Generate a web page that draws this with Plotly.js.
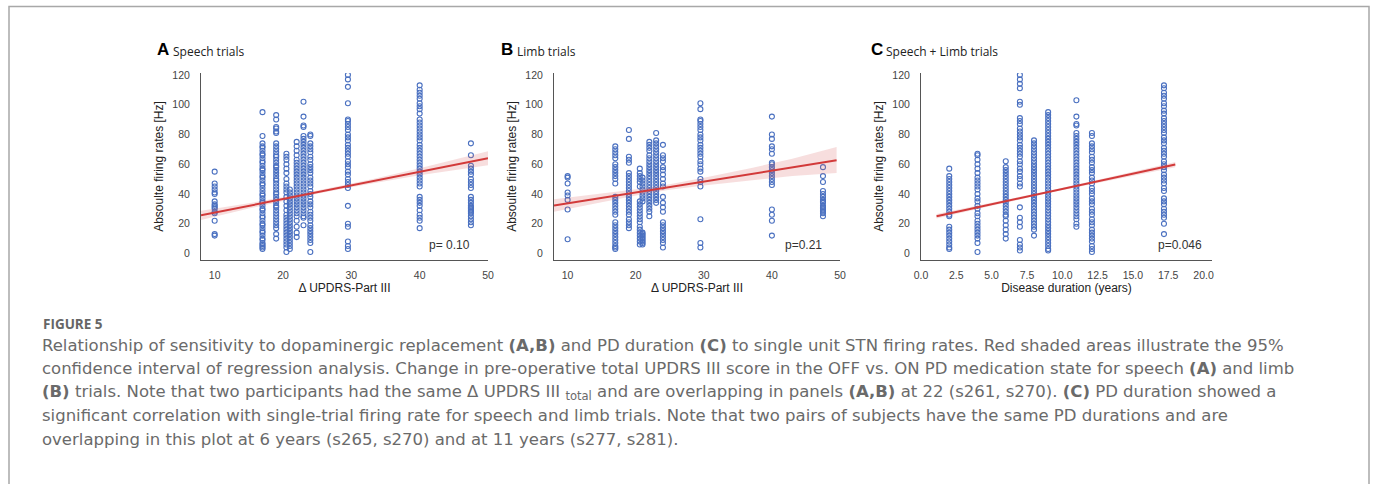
<!DOCTYPE html>
<html>
<head>
<meta charset="utf-8">
<script src="https://cdn.plot.ly/plotly-3.0.1.min.js"></script>
<style>
  html, body { margin: 0; padding: 0; background: #fff; }
  #chart { width: 1375px; height: 484px; }
</style>
</head>
<body>
<div id="chart"></div>
<script>
// ---------------- DATA ----------------
// Panel A: Speech trials, columns at Δ UPDRS-Part III values
const speechCols = [10, 17, 19, 20.5, 21, 22, 23, 24, 29.5, 40, 47.5];
const speechRates = [
  [55, 47, 45, 43, 41, 40, 35, 33, 32, 31, 30, 28, 27, 22, 13, 12],
  [95, 79, 74, 72, 71, 69, 67, 66, 64, 62, 61, 59, 57, 56, 54, 52, 51, 49, 47, 46, 44, 42, 40, 39, 37, 35, 34, 32, 30, 29, 27, 25, 24, 22, 20, 19, 17, 15, 14, 12, 10, 9, 7, 6, 5, 4, 3],
  [93, 90, 85, 84, 82, 81, 74, 72, 70, 68, 66, 65, 63, 61, 59, 58, 56, 54, 52, 50, 49, 47, 45, 43, 41, 40, 38, 36, 34, 32, 31, 29, 27, 25, 23, 21, 19, 17, 13, 10],
  [67, 65, 63, 60, 57, 54, 50, 47, 45, 43, 41, 38, 35, 32, 29, 26, 24, 22, 20, 18, 16, 14, 12, 10, 8, 6, 4, 1],
  [43, 41, 39, 37, 35, 33, 31, 29, 27, 25, 23, 21, 19, 17, 15, 13, 11, 9, 7, 5, 3],
  [75, 72, 69, 66, 63, 61, 59, 57, 55, 53, 51, 49, 47, 45, 43, 41, 39, 37, 35, 33, 31, 29, 27, 25, 22, 18, 14, 11],
  [102, 92, 86, 85, 79, 77, 75, 73, 71, 69, 67, 65, 63, 61, 59, 57, 55, 53, 51, 49, 47, 45, 43, 41, 39, 37, 35, 33, 31, 29, 27, 25, 24, 19],
  [80, 79, 74, 72, 70, 68, 65, 63, 60, 58, 56, 54, 51, 49, 47, 45, 42, 40, 38, 35, 33, 31, 28, 26, 24, 22, 19, 17, 15, 13, 11, 9, 7, 1],
  [120, 117, 112, 101, 90, 89, 87, 85, 83, 80, 78, 76, 73, 71, 69, 67, 65, 62, 60, 58, 55, 53, 50, 48, 46, 44, 32, 20, 18, 8, 5, 3],
  [113, 110, 108, 106, 104, 101, 99, 97, 94, 90, 88, 86, 84, 82, 80, 78, 76, 73, 71, 69, 67, 65, 63, 61, 59, 57, 55, 53, 51, 49, 47, 45, 38, 36, 34, 32, 29, 26, 24, 22, 17],
  [74, 66, 59, 57, 55, 53, 50, 48, 46, 44, 38, 36, 34, 32, 31, 30, 29, 28, 27, 25, 23, 21, 19]
];
const speechFitX = [8, 15, 22, 27, 33, 40, 50];
const speechFitY = [25.6, 32.0, 38.4, 43.0, 48.4, 54.8, 64.0];
const speechLow  = [22.5, 30.2, 37.3, 42.0, 47.0, 52.5, 59.3];
const speechHigh = [28.7, 33.8, 39.5, 44.0, 49.9, 57.2, 68.7];

// Panel B: Limb trials
const limbCols = [10, 17, 19, 20.6, 21, 22, 23, 24, 29.5, 40, 47.5];
const limbRates = [
  [52, 51, 47, 41, 39, 36, 29.5, 9.5],
  [72, 70, 68, 66, 64, 60, 58, 56, 54, 52, 50, 47, 38, 36, 34, 32, 30, 28, 26, 21, 19, 17, 15, 13, 11, 9, 7, 5, 4, 3],
  [83, 77, 65, 63, 61, 54, 52, 50, 48, 46, 44, 42, 40, 38, 36, 34, 32, 30, 28, 26, 23, 21, 19, 17],
  [57, 54, 52, 50, 48, 45, 35, 33, 31, 29, 27, 25, 23, 21, 18, 16, 14, 12, 10, 8, 6],
  [51, 49, 47, 45, 43, 41, 39, 37, 35, 14, 13, 12, 11, 10, 9, 8, 7, 6],
  [75, 73, 71, 69, 66, 64, 62, 60, 58, 56, 54, 52, 50, 48, 46, 44, 42, 40, 38, 36, 34, 32, 30, 28, 25],
  [81, 76, 74, 72, 70, 68, 66, 64, 62, 60, 58, 56, 54, 52, 50, 48, 46, 44, 42, 40, 38, 36, 34],
  [73, 66, 64, 62, 58, 56, 53, 50, 47, 45, 38, 34, 31, 28, 21, 19, 17, 15, 13, 11, 9, 7, 4],
  [101, 97, 90, 89, 87, 85, 83, 80, 78, 76, 73, 71, 69, 67, 65, 62, 60, 57, 55, 50, 48, 45, 23, 7, 4],
  [92, 80, 77, 72, 70, 67, 61, 60, 58, 56, 54, 52, 50, 48, 46, 29.5, 26, 22, 12],
  [58, 52, 48, 42, 40, 38, 36, 35, 34, 32, 31, 30, 29, 28, 27, 25]
];
const limbFitX = [8, 15, 21, 25, 30, 37, 43, 49.5];
const limbFitY = [32.2, 37.3, 41.7, 44.7, 48.3, 53.4, 57.8, 62.6];
const limbLow  = [28.0, 34.5, 39.8, 42.8, 45.7, 49.3, 52.0, 54.0];
const limbHigh = [36.4, 40.1, 43.6, 46.6, 50.9, 57.5, 63.6, 71.5];

// Panel C: Speech + Limb trials, columns at disease duration (years)
const durationCols = [2, 4, 6, 7, 8, 9, 11, 12.1, 17.2];
const durationRates = [
  [57, 52, 50, 48, 46, 44, 42, 40, 38, 36, 34, 32, 30, 28, 26, 25, 18, 16, 14, 12, 10, 8, 6, 4, 3],
  [67, 66, 63, 60, 57, 54, 51, 49, 47, 45, 43, 40, 37, 35, 32, 30, 27, 25, 22, 20, 18, 16, 14, 12, 10, 7, 1],
  [62, 58, 56, 54, 52, 50, 48, 46, 44, 42, 40, 38, 36, 34, 32, 30, 28, 26, 25, 22, 19, 16, 13, 10],
  [120, 117, 114, 111, 102, 100, 91, 89, 87, 84, 82, 80, 78, 76, 73, 71, 69, 67, 65, 62, 60, 57, 55, 52, 50, 47, 45, 31, 24, 21, 18, 9, 6, 4, 2],
  [76, 74, 72, 70, 68, 66, 64, 62, 60, 58, 56, 54, 52, 50, 48, 46, 44, 42, 40, 38, 36, 34, 32, 30, 28, 26, 24, 22, 20, 18, 16, 12],
  [95, 93, 91, 89, 87, 85, 83, 81, 79, 77, 75, 73, 71, 69, 67, 65, 63, 61, 59, 57, 55, 53, 51, 49, 47, 45, 43, 41, 39, 37, 35, 33, 31, 29, 27, 25, 23, 21, 19, 17, 15, 13, 11, 9, 7, 5, 3, 2],
  [103, 92, 87, 86, 81, 79, 77, 75, 73, 71, 69, 67, 65, 63, 61, 59, 57, 55, 53, 51, 49, 47, 45, 43, 41, 39, 37, 35, 33, 31, 29, 27, 25, 23, 20, 18],
  [81, 79, 74, 72, 70, 68, 65, 63, 61, 58, 56, 54, 51, 49, 47, 44, 42, 40, 37, 35, 33, 30, 28, 26, 23, 21, 19, 16, 14, 12, 10, 8, 5, 3, 1],
  [113, 111, 108, 106, 104, 101, 99, 96, 94, 91, 89, 87, 85, 83, 81, 78, 76, 74, 71, 69, 67, 65, 62, 60, 58, 56, 53, 51, 49, 47, 44, 42, 37, 35, 33, 30, 28, 26, 24, 20, 13]
];
const durationFitX = [1.1, 5, 9, 13, 18];
const durationFitY = [25.0, 33.0, 41.3, 49.5, 59.8];
const durationLow  = [23.5, 32.0, 40.6, 48.5, 58.0];
const durationHigh = [26.5, 34.0, 42.0, 50.5, 61.5];

const yTicks = [0, 20, 40, 60, 80, 100, 120];
const updrsTicks = [10, 20, 30, 40, 50];
const durationTicks = [0, 2.5, 5, 7.5, 10, 12.5, 15, 17.5, 20];

const panelLetters = ['A', 'B', 'C'];
const panelNames = ['Speech trials', 'Limb trials', 'Speech + Limb trials'];
const pValues = ['p= 0.10', 'p=0.21', 'p=0.046'];
const xTitles = ['\u0394 UPDRS-Part III', '\u0394 UPDRS-Part III', 'Disease duration (years)'];
const yTitle = 'Absoulte firing rates [Hz]';

const captionHead = 'FIGURE 5';
const captionLines = [
  'Relationship of sensitivity to dopaminergic replacement <b>(A,B)</b> and PD duration <b>(C)</b> to single unit STN firing rates. Red shaded areas illustrate the 95%',
  'confidence interval of regression analysis. Change in pre-operative total UPDRS III score in the OFF vs. ON PD medication state for speech <b>(A)</b> and limb',
  '<b>(B)</b> trials. Note that two participants had the same \u0394 UPDRS III <sub>total</sub> and are overlapping in panels <b>(A,B)</b> at 22 (s261, s270). <b>(C)</b> PD duration showed a',
  'significant correlation with single-trial firing rate for speech and limb trials. Note that two pairs of subjects have the same PD durations and are',
  'overlapping in this plot at 6 years (s265, s270) and at 11 years (s277, s281).'
];

// ---------------- BUILD ----------------
const W = 1375, H = 484;
const px = v => v / W;
const py = v => 1 - v / H;

function flatten(cols, vals) {
  const x = [], y = [];
  cols.forEach((c, i) => vals[i].forEach(v => { x.push(c); y.push(v); }));
  return { x, y };
}

const BLUE = '#4a70c0';
const RED = '#d23a3a';
const BAND = 'rgba(215, 90, 90, 0.20)';

const panels = [
  { cols: speechCols, vals: speechRates, fx: speechFitX, fy: speechFitY, lo: speechLow, hi: speechHigh },
  { cols: limbCols, vals: limbRates, fx: limbFitX, fy: limbFitY, lo: limbLow, hi: limbHigh },
  { cols: durationCols, vals: durationRates, fx: durationFitX, fy: durationFitY, lo: durationLow, hi: durationHigh }
];

const traces = [];
panels.forEach((p, i) => {
  const xa = i === 0 ? 'x' : 'x' + (i + 1);
  const ya = i === 0 ? 'y' : 'y' + (i + 1);
  const pts = flatten(p.cols, p.vals);
  traces.push({
    type: 'scatter', mode: 'markers', x: pts.x, y: pts.y, xaxis: xa, yaxis: ya,
    marker: { symbol: 'circle-open', size: 5, color: BLUE, line: { width: 1.1, color: BLUE } },
    hoverinfo: 'x+y'
  });
  traces.push({
    type: 'scatter', mode: 'lines', xaxis: xa, yaxis: ya,
    x: p.fx.concat(p.fx.slice().reverse()),
    y: p.hi.concat(p.lo.slice().reverse()),
    fill: 'toself', fillcolor: BAND, line: { width: 0, color: 'rgba(0,0,0,0)' },
    hoverinfo: 'skip'
  });
  traces.push({
    type: 'scatter', mode: 'lines', x: p.fx, y: p.fy, xaxis: xa, yaxis: ya,
    line: { color: RED, width: 2 }, hoverinfo: 'skip'
  });
});

// domains in pixels
const xDom = [[201, 488], [554, 840], [921, 1212]];
const yDomPx = [73, 260];
const xRanges = [[8, 50], [8, 50], [0, 20.6]];
const yRange = [-4.4, 121.3];

const tickFont = { family: 'Liberation Sans, Arial, sans-serif', size: 10.5, color: '#444' };
const titleFont = { family: 'Liberation Sans, Arial, sans-serif', size: 12, color: '#222' };

const layout = {
  width: W, height: H,
  margin: { l: 0, r: 0, t: 0, b: 0 },
  paper_bgcolor: '#fff', plot_bgcolor: '#fff',
  showlegend: false,
  font: { family: 'Liberation Sans, Arial, sans-serif' },
  annotations: [],
  shapes: [{
    type: 'rect', xref: 'paper', yref: 'paper',
    x0: px(9), x1: px(1369), y0: py(500), y1: py(6.5),
    line: { color: '#a8a8a8', width: 1.5 }, fillcolor: 'rgba(0,0,0,0)', layer: 'below'
  }]
};

for (let i = 0; i < 3; i++) {
  const sx = i === 0 ? '' : String(i + 1);
  layout['xaxis' + sx] = {
    domain: [px(xDom[i][0]), px(xDom[i][1])],
    anchor: 'y' + sx,
    range: xRanges[i],
    tickvals: i < 2 ? updrsTicks : durationTicks,
    ticktext: (i < 2 ? updrsTicks : durationTicks).map(v => i < 2 ? String(v) : v.toFixed(1)),
    showgrid: false, zeroline: false, showline: true, linecolor: '#555', linewidth: 1,
    ticks: '', ticklabelstandoff: 5,
    tickfont: tickFont,
    title: { text: xTitles[i], font: titleFont, standoff: 1 },
    automargin: false, fixedrange: true
  };
  layout['yaxis' + sx] = {
    domain: [py(yDomPx[1]), py(yDomPx[0])],
    anchor: 'x' + sx,
    range: yRange,
    tickvals: yTicks,
    showgrid: false, zeroline: false, showline: true, linecolor: '#555', linewidth: 1,
    ticks: '', ticklabelstandoff: 8,
    tickfont: tickFont,
    title: { text: yTitle, font: titleFont, standoff: 6 },
    automargin: false, fixedrange: true
  };
}

// panel titles
const letterX = [155, 499, 869];
const nameX = [171, 515, 884];
for (let i = 0; i < 3; i++) {
  layout.annotations.push({
    xref: 'paper', yref: 'paper', x: px(letterX[i]), y: py(50), xanchor: 'left', yanchor: 'middle',
    text: '<b>' + panelLetters[i] + '</b>', showarrow: false,
    font: { family: 'Liberation Sans, Arial, sans-serif', size: 17, color: '#000' }
  });
  layout.annotations.push({
    xref: 'paper', yref: 'paper', x: px(nameX[i]), y: py(52), xanchor: 'left', yanchor: 'middle',
    text: panelNames[i], showarrow: false,
    font: { family: 'Open Sans, Liberation Sans, sans-serif', size: 12, color: '#222' }
  });
}

// p-values
const pX = [449, 803, 1180];
for (let i = 0; i < 3; i++) {
  layout.annotations.push({
    xref: 'paper', yref: 'paper', x: px(pX[i]), y: py(245), xanchor: 'center', yanchor: 'middle',
    text: pValues[i], showarrow: false,
    font: { family: 'Liberation Sans, Arial, sans-serif', size: 12, color: '#333' }
  });
}

// caption
layout.annotations.push({
  xref: 'paper', yref: 'paper', x: px(41), y: py(324), xanchor: 'left', yanchor: 'middle',
  text: '<b>' + captionHead + '</b>', showarrow: false,
  font: { family: 'Open Sans, sans-serif', size: 13.5, color: '#666' }
});
const capY = [345, 368.5, 392, 415.5, 439];
captionLines.forEach((t, i) => {
  layout.annotations.push({
    xref: 'paper', yref: 'paper', x: px(40), y: py(capY[i]), xanchor: 'left', yanchor: 'middle',
    text: t, showarrow: false,
    font: { family: 'DejaVu Sans, sans-serif', size: 16.5, color: '#6a6a6a' }
  });
});

Plotly.newPlot('chart', traces, layout, { staticPlot: true, displayModeBar: false });
</script>
</body>
</html>
